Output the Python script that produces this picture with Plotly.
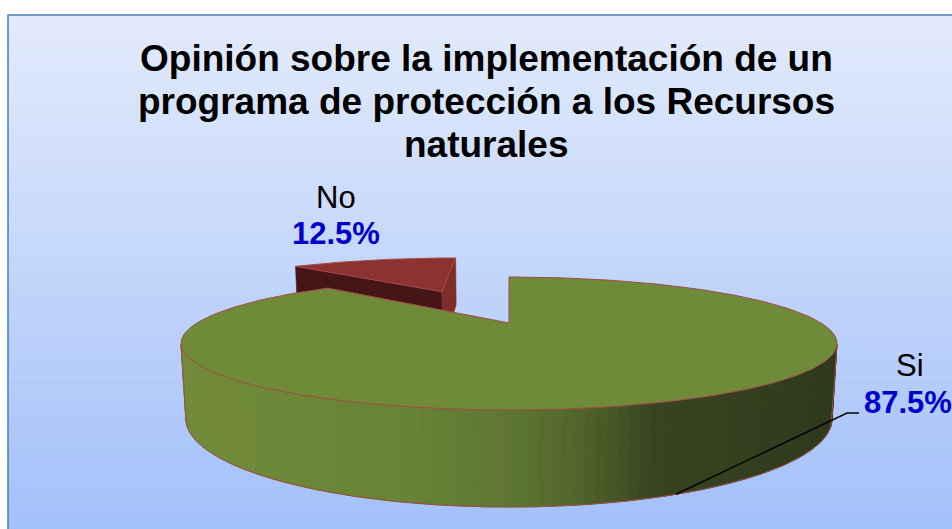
import numpy as np
import plotly.graph_objects as go

# ---------------- data ----------------
categories = ["Si", "No"]
values = [87.5, 12.5]
value_labels = ["87.5%", "12.5%"]
explode = [0.0, 0.67]          # radial pull of each slice (fraction of radius)
title_lines = ["Opinión sobre la implementación de un",
               "programa de protección a los Recursos",
               "naturales"]

# ---------------- style / view constants ----------------
W, H = 952, 529
FOC, DIST, TILT = 993.6, 3.184, np.radians(11.12)
CX, CY = 509.0, 323.0
THICK = 0.2275
cs, sn = np.cos(TILT), np.sin(TILT)
CAM = np.array([0.0, -DIST * cs, DIST * sn])
EDGE = "#A24A44"
FONT = "Arial, Liberation Sans, sans-serif"
top_colors = {"Si": "#6F8A38", "No": "#8B3332"}
face_colors = {"Si": ("#4E6228", "#4E6228"), "No": ("#451518", "#7E2C2C")}
green_stops = [(0.0, (113, 139, 58)), (0.35, (104, 131, 54)), (0.5, (94, 118, 50)),
               (0.6, (82, 102, 44)), (0.72, (56, 68, 32)), (1.0, (46, 57, 27))]
red_stops = [(0.0, (110, 40, 40)), (1.0, (60, 20, 20))]


def proj(X, Y, Z):
    X, Y, Z = np.asarray(X, float), np.asarray(Y, float), np.asarray(Z, float)
    depth = Y * cs + DIST - Z * sn
    return CX + FOC * X / depth, CY - FOC * (Y * sn + Z * cs) / depth


def grad(stops, t):
    t = min(max(t, 0.0), 1.0)
    for (t0, c0), (t1, c1) in zip(stops[:-1], stops[1:]):
        if t <= t1:
            f = (t - t0) / (t1 - t0) if t1 > t0 else 0
            c = [round(a + (b - a) * f) for a, b in zip(c0, c1)]
            return "rgb(%d,%d,%d)" % tuple(c)
    return "rgb(%d,%d,%d)" % stops[-1][1]


def visible(normal, point):
    return float(np.dot(normal, CAM - np.asarray(point))) > 1e-9


fig = go.Figure()

# ---------------- background gradient + frame ----------------
shapes = []
y_top, y_bot = 15, H + 2
c_top, c_bot = np.array([227, 235, 251]), np.array([162, 192, 250])
nb = 90
for i in range(nb):
    y0 = y_top + (y_bot - y_top) * i / nb
    y1 = y_top + (y_bot - y_top) * (i + 1) / nb
    c = c_top + (c_bot - c_top) * (i + 0.5) / nb
    shapes.append(dict(type="rect", xref="x", yref="y", x0=8, x1=W + 5, y0=y0, y1=y1 + 0.6,
                       fillcolor="rgb(%d,%d,%d)" % tuple(np.round(c)), line_width=0, layer="below"))
shapes.append(dict(type="rect", xref="x", yref="y", x0=8, x1=W + 10, y0=15, y1=H + 10,
                   line=dict(color="#4A7EBB", width=1.5), fillcolor="rgba(0,0,0,0)", layer="below"))

# ---------------- slices geometry ----------------
total = float(sum(values))
slices = []
acc = 0.0
for cat, v, e in zip(categories, values, explode):
    t0 = 2 * np.pi * acc / total
    t1 = 2 * np.pi * (acc + v) / total
    mid = 0.5 * (t0 + t1)
    slices.append(dict(cat=cat, t0=t0, t1=t1, ox=e * np.sin(mid), oy=e * np.cos(mid),
                       order=e * np.cos(mid) + np.cos(mid)))
    acc += v

slices.sort(key=lambda s: -s["order"])  # far slices first

leader_start = None
for s in slices:
    cat, t0, t1, ox, oy = s["cat"], s["t0"], s["t1"], s["ox"], s["oy"]
    apex = np.array([ox, oy, 0.0])
    # radial faces
    for ang, sign, col in ((t0, -1, face_colors[cat][0]), (t1, 1, face_colors[cat][1])):
        normal = sign * np.array([np.cos(ang), -np.sin(ang), 0.0])
        if visible(normal, apex):
            X = [ox, ox + np.sin(ang), ox + np.sin(ang), ox]
            Y = [oy, oy + np.cos(ang), oy + np.cos(ang), oy]
            Z = [0, 0, -THICK, -THICK]
            px, py = proj(X, Y, Z)
            fig.add_trace(go.Scatter(x=list(px) + [px[0]], y=list(py) + [py[0]], mode="lines",
                                     fill="toself", fillcolor=col, line=dict(color=col, width=0.6),
                                     hoverinfo="skip", showlegend=False))
    # outer side strips
    n = max(int(np.degrees(t1 - t0) / 1.5), 2)
    th = np.linspace(t0, t1, n + 1)
    vis_th = []
    for a, b in zip(th[:-1], th[1:]):
        m = 0.5 * (a + b)
        pm = np.array([ox + np.sin(m), oy + np.cos(m), -THICK / 2])
        if not visible(np.array([np.sin(m), np.cos(m), 0.0]), pm):
            continue
        vis_th.append((a, b))
        X = [ox + np.sin(a), ox + np.sin(b), ox + np.sin(b), ox + np.sin(a)]
        Y = [oy + np.cos(a), oy + np.cos(b), oy + np.cos(b), oy + np.cos(a)]
        Z = [0, 0, -THICK, -THICK]
        px, py = proj(X, Y, Z)
        stops = green_stops if cat == "Si" else red_stops
        col = grad(stops, (float(np.mean(px)) - 182) / 656)
        fig.add_trace(go.Scatter(x=list(px) + [px[0]], y=list(py) + [py[0]], mode="lines",
                                 fill="toself", fillcolor=col, line=dict(color=col, width=1.0),
                                 hoverinfo="skip", showlegend=False))
    if vis_th:
        a0, b1 = vis_th[0][0], vis_th[-1][1]
        tt = np.linspace(a0, b1, 200)
        bx, by = proj(ox + np.sin(tt), oy + np.cos(tt), -THICK * np.ones_like(tt))
        tx, ty = proj(ox + np.sin(tt), oy + np.cos(tt), np.zeros_like(tt))
        fig.add_trace(go.Scatter(x=[tx[0]] + list(bx) + [tx[-1]], y=[ty[0]] + list(by) + [ty[-1]],
                                 mode="lines", line=dict(color=EDGE, width=1),
                                 hoverinfo="skip", showlegend=False))
    # top face
    tt = np.linspace(t0, t1, max(int(np.degrees(t1 - t0)), 4) + 1)
    X = np.concatenate([[ox], ox + np.sin(tt), [ox]])
    Y = np.concatenate([[oy], oy + np.cos(tt), [oy]])
    px, py = proj(X, Y, np.zeros_like(X))
    fig.add_trace(go.Scatter(x=px, y=py, mode="lines", fill="toself", fillcolor=top_colors[cat],
                             line=dict(color=EDGE, width=1), hoverinfo="skip", showlegend=False,
                             name=cat))
    if cat == "Si":
        ang = np.radians(157.0)
        lx, ly = proj(ox + np.sin(ang), oy + np.cos(ang), -THICK)
        leader_start = (float(lx), float(ly))

# ---------------- leader line for "Si" ----------------
fig.add_trace(go.Scatter(x=[leader_start[0], 847, 859], y=[leader_start[1], 413, 413],
                         mode="lines", line=dict(color="black", width=1.5),
                         hoverinfo="skip", showlegend=False))

# ---------------- labels ----------------
name_pos = {"No": (336, 197), "Si": (910, 365)}
value_pos = {"No": (336, 233.5), "Si": (908, 402)}
annotations = []
for cat, lab in zip(categories, value_labels):
    x, y = name_pos[cat]
    annotations.append(dict(x=x, y=y, xref="x", yref="y", showarrow=False,
                            xanchor="center", yanchor="middle", text=cat,
                            font=dict(family=FONT, size=31, color="black")))
    x, y = value_pos[cat]
    annotations.append(dict(x=x, y=y, xref="x", yref="y", showarrow=False,
                            xanchor="center", yanchor="middle", text=f"<b>{lab}</b>",
                            font=dict(family=FONT, size=31, color="#0000CC")))

# ---------------- title (three lines) ----------------
title_y = [58, 101, 144]
for line, ty in zip(title_lines, title_y):
    annotations.append(dict(x=486, y=ty, xref="x", yref="y", showarrow=False,
                            xanchor="center", yanchor="middle", text=f"<b>{line}</b>",
                            font=dict(family=FONT, size=37, color="black")))

fig.update_layout(
    width=W, height=H,
    margin=dict(l=0, r=0, t=0, b=0),
    paper_bgcolor="white", plot_bgcolor="white",
    xaxis=dict(range=[0, W], visible=False, fixedrange=True),
    yaxis=dict(range=[H, 0], visible=False, fixedrange=True),
    shapes=shapes,
    annotations=annotations,
    showlegend=False,
)

fig.write_html("out.html", config={"displayModeBar": False},
               post_script="document.body.style.margin='0';")
